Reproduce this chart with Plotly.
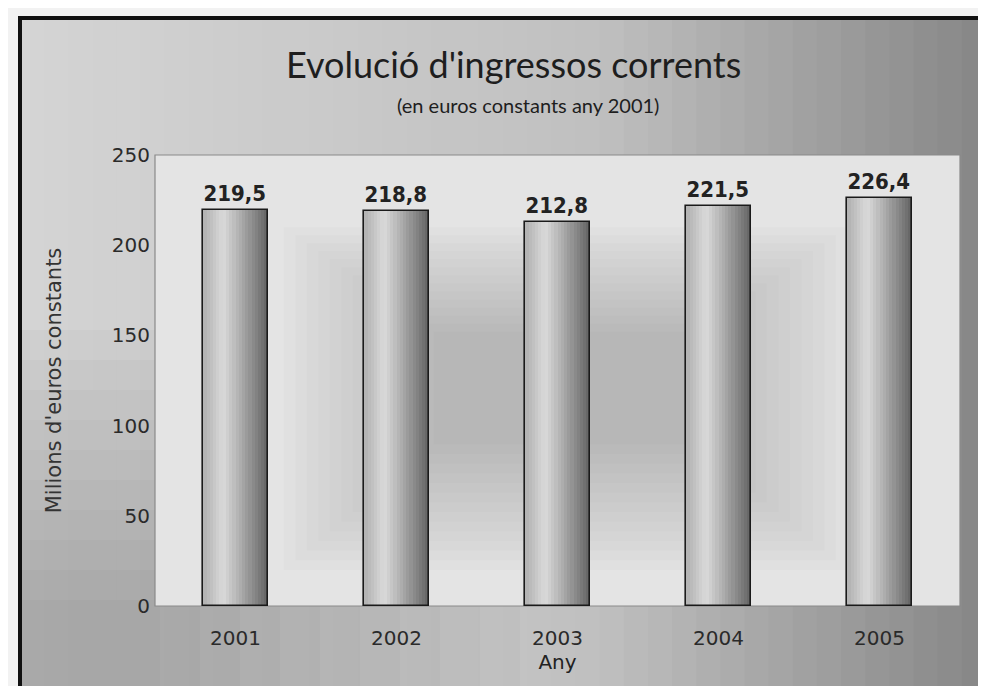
import plotly.graph_objects as go

years = ["2001", "2002", "2003", "2004", "2005"]
values = [219.5, 218.8, 212.8, 221.5, 226.4]
labels = ["219,5", "218,8", "212,8", "221,5", "226,4"]
y_ticks = [0, 50, 100, 150, 200, 250]

OFF = 8  # page body margin
W, H = 978, 678
ML, MR, MT, MB = 147, 26, 147, 80
PW, PH = W - ML - MR, H - MT - MB


def px_x(p):
    return (p - OFF - ML) / PW


def px_y(p):
    return (H - MB - (p - OFF)) / PH


def lerp_hex(c1, c2, t):
    a = [int(c1[i:i + 2], 16) for i in (1, 3, 5)]
    b = [int(c2[i:i + 2], 16) for i in (1, 3, 5)]
    return "#" + "".join(f"{round(a[k] + (b[k] - a[k]) * t):02x}" for k in range(3))


fig = go.Figure()

# gradient bars made of vertical strips
bar_w = 0.4
n_strips = 20
for i in range(n_strips):
    t = i / (n_strips - 1)
    if t < 0.3:
        col = lerp_hex("#b4b4b4", "#dadada", t / 0.3)
    else:
        col = lerp_hex("#dadada", "#686868", (t - 0.3) / 0.7)
    fig.add_trace(go.Bar(
        x=years, y=values,
        width=bar_w / n_strips + 0.002,
        offset=-bar_w / 2 + i * bar_w / n_strips,
        marker=dict(color=col, line=dict(width=0)),
        showlegend=False, hoverinfo="skip",
    ))

# outline + labels
fig.add_trace(go.Bar(
    x=years, y=values, width=bar_w,
    marker=dict(color="rgba(0,0,0,0)", line=dict(color="#1a1a1a", width=1.6)),
    text=labels, textposition="outside",
    textfont=dict(family="DejaVu Sans Condensed, DejaVu Sans, sans-serif",
                  size=22, color="#222222", weight="bold"),
    cliponaxis=False, showlegend=False, hoverinfo="skip",
))

shapes = []
# outer panel background gradient (left light -> right dark)
x_left, x_right = 20, 986
n_bg = 40
for i in range(n_bg):
    t = i / (n_bg - 1)
    if t < 0.6:
        col = lerp_hex("#d4d4d4", "#c0c0c0", t / 0.6)
    else:
        col = lerp_hex("#c0c0c0", "#888888", (t - 0.6) / 0.4)
    x0 = x_left + (x_right - x_left) * i / n_bg
    x1 = x_left + (x_right - x_left) * (i + 1) / n_bg + 1
    shapes.append(dict(type="rect", xref="paper", yref="paper", layer="below",
                       x0=px_x(x0), x1=px_x(x1), y0=px_y(690), y1=px_y(18),
                       fillcolor=col, line=dict(width=0)))
# soft darkening towards the bottom-left
for k in range(10):
    shapes.append(dict(type="rect", xref="paper", yref="paper", layer="below",
                       x0=px_x(20), x1=px_x(160 + 40 * k), y0=px_y(690), y1=px_y(330 + 30 * k),
                       fillcolor="rgba(80,80,80,0.035)", line=dict(width=0)))
# plot-area background
shapes.append(dict(type="rect", xref="paper", yref="paper", layer="below",
                   x0=0, x1=1, y0=0, y1=1, fillcolor="#e4e4e4",
                   line=dict(color="#8a8a8a", width=1.2)))
# soft darker blob in the middle of the plot area
n_blob = 14
for k in range(n_blob):
    f = k / n_blob
    shapes.append(dict(type="rect", xref="paper", yref="paper", layer="below",
                       x0=0.16 + 0.2 * f, x1=0.86 - 0.2 * f,
                       y0=0.08 + 0.3 * f, y1=0.84 - 0.25 * f,
                       fillcolor="rgba(110,110,110,0.028)", line=dict(width=0)))
# frame border (top and left dark)
shapes.append(dict(type="line", xref="paper", yref="paper",
                   x0=px_x(18), x1=px_x(990), y0=px_y(18), y1=px_y(18),
                   line=dict(color="#111111", width=4)))
shapes.append(dict(type="line", xref="paper", yref="paper",
                   x0=px_x(20), x1=px_x(20), y0=px_y(18), y1=px_y(690),
                   line=dict(color="#111111", width=4)))

font_main = "Lato, Open Sans, DejaVu Sans, sans-serif"
font_ax = "DejaVu Sans, sans-serif"

fig.update_layout(
    width=W, height=H,
    margin=dict(l=ML, r=MR, t=MT, b=MB),
    paper_bgcolor="#f2f2f2",
    plot_bgcolor="rgba(0,0,0,0)",
    barmode="overlay",
    bargap=0,
    shapes=shapes,
    font=dict(family=font_main, color="#333333"),
    xaxis=dict(
        type="category",
        tickfont=dict(size=20, color="#2a2a2a", family=font_ax),
        ticklabelstandoff=18,
        title=dict(text="Any", font=dict(size=20, color="#222222", family=font_ax), standoff=0),
        showline=False, ticks="", showgrid=False,
    ),
    yaxis=dict(
        range=[0, 250],
        tickvals=y_ticks,
        tickfont=dict(size=20, color="#2a2a2a", family=font_ax),
        ticklabelstandoff=4,
        title=dict(text="Milions d'euros constants",
                   font=dict(size=21, color="#333333", family=font_ax),
                   standoff=44),
        showgrid=False, showline=False, ticks="", zeroline=False,
    ),
    annotations=[
        dict(text="Evolució d'ingressos corrents", xref="paper", yref="paper",
             x=px_x(513), y=px_y(64), xanchor="center", yanchor="middle", showarrow=False,
             font=dict(size=36, color="#1e1e1e", family=font_main)),
        dict(text="(en euros constants any 2001)", xref="paper", yref="paper",
             x=px_x(528), y=px_y(105), xanchor="center", yanchor="middle", showarrow=False,
             font=dict(size=20, color="#1e1e1e", family=font_main)),
    ],
)

fig.write_html("out.html")
